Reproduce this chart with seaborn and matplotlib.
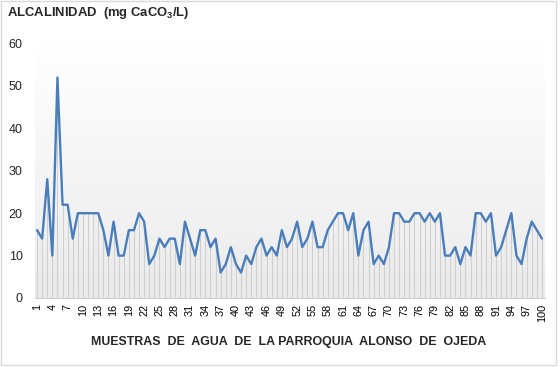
import numpy as np
import pandas as pd
import matplotlib
matplotlib.use("Agg")
import matplotlib.pyplot as plt
import seaborn as sns
from matplotlib.colors import LinearSegmentedColormap
from matplotlib.patches import Rectangle

# ---- data ----
muestras = list(range(1, 101))
alcalinidad = [16, 14, 28, 10, 52, 22, 22, 14, 20, 20,
               20, 20, 20, 16, 10, 18, 10, 10, 16, 16,
               20, 18, 8, 10, 14, 12, 14, 14, 8, 18,
               14, 10, 16, 16, 12, 14, 6, 8, 12, 8,
               6, 10, 8, 12, 14, 10, 12, 10, 16, 12,
               14, 18, 12, 14, 18, 12, 12, 16, 18, 20,
               20, 16, 20, 10, 16, 18, 8, 10, 8, 12,
               20, 20, 18, 18, 20, 20, 18, 20, 18, 20,
               10, 10, 12, 8, 12, 10, 20, 20, 18, 20,
               10, 12, 16, 20, 10, 8, 14, 18, 16, 14]
xticks = list(range(1, 101, 3))
yticks = [0, 10, 20, 30, 40, 50, 60]
titulo = r"ALCALINIDAD  (mg CaCO$_\mathbf{3}$/L)"
xlabel = "MUESTRAS  DE  AGUA  DE  LA PARROQUIA  ALONSO  DE  OJEDA"

df = pd.DataFrame({"muestra": muestras, "valor": alcalinidad})

sns.set_style("white")
plt.rcParams["font.family"] = ["Liberation Sans", "DejaVu Sans"]
plt.rcParams["mathtext.fontset"] = "custom"
plt.rcParams["mathtext.rm"] = "Liberation Sans"
plt.rcParams["mathtext.bf"] = "Liberation Sans:bold"

W, H = 560, 367
fig = plt.figure(figsize=(W / 100, H / 100), dpi=100)
left, right, top, bottom = 34.5, 544.5, 43.6, 298
ax = fig.add_axes([left / W, 1 - bottom / H, (right - left) / W, (bottom - top) / H])

# gradient background of plot area
cmap = LinearSegmentedColormap.from_list("g", ["#ebebeb", "#ffffff"])
grad = np.linspace(0, 1, 256).reshape(-1, 1)
ax.imshow(grad, extent=[0, 1, 0, 1], transform=ax.transAxes, cmap=cmap,
          aspect="auto", origin="lower", zorder=0)

# drop lines
ax.vlines(df["muestra"], 0, df["valor"], colors="#d0d0d0", linewidth=0.8, zorder=1)

sns.lineplot(data=df, x="muestra", y="valor", ax=ax, color="#4A7EBB",
             linewidth=1.7, zorder=3)

ax.set_xlim(0.5, 100.5)
ax.set_ylim(0, 60)
ax.set_xticks(xticks)
ax.set_xticklabels([str(t) for t in xticks], rotation=90, fontsize=7.8)
ax.set_yticks(yticks)
ax.set_yticklabels([str(t) for t in yticks], fontsize=9)
ax.tick_params(axis="x", length=0, pad=4, colors="#000000")
ax.tick_params(axis="y", length=0, pad=8.5)
ax.set_xlabel("")
ax.set_ylabel("")
for s in ["left", "top", "right"]:
    ax.spines[s].set_visible(False)
ax.spines["bottom"].set_color("#d0d0d0")
ax.spines["bottom"].set_linewidth(0.8)
ax.grid(False)

fig.text(7 / W, 1 - 16 / H, titulo, fontsize=9.4, fontweight="bold",
         ha="left", va="baseline")
fig.text(289 / W, 1 - 345 / H, xlabel, fontsize=8.9, fontweight="bold",
         ha="center", va="baseline")

fig.patches.append(Rectangle((1 / W, 1 - 365 / H), 555 / W, 364 / H,
                             transform=fig.transFigure, fill=False,
                             edgecolor="#d9d9d9", linewidth=1))

fig.savefig("out.png", dpi=100)
